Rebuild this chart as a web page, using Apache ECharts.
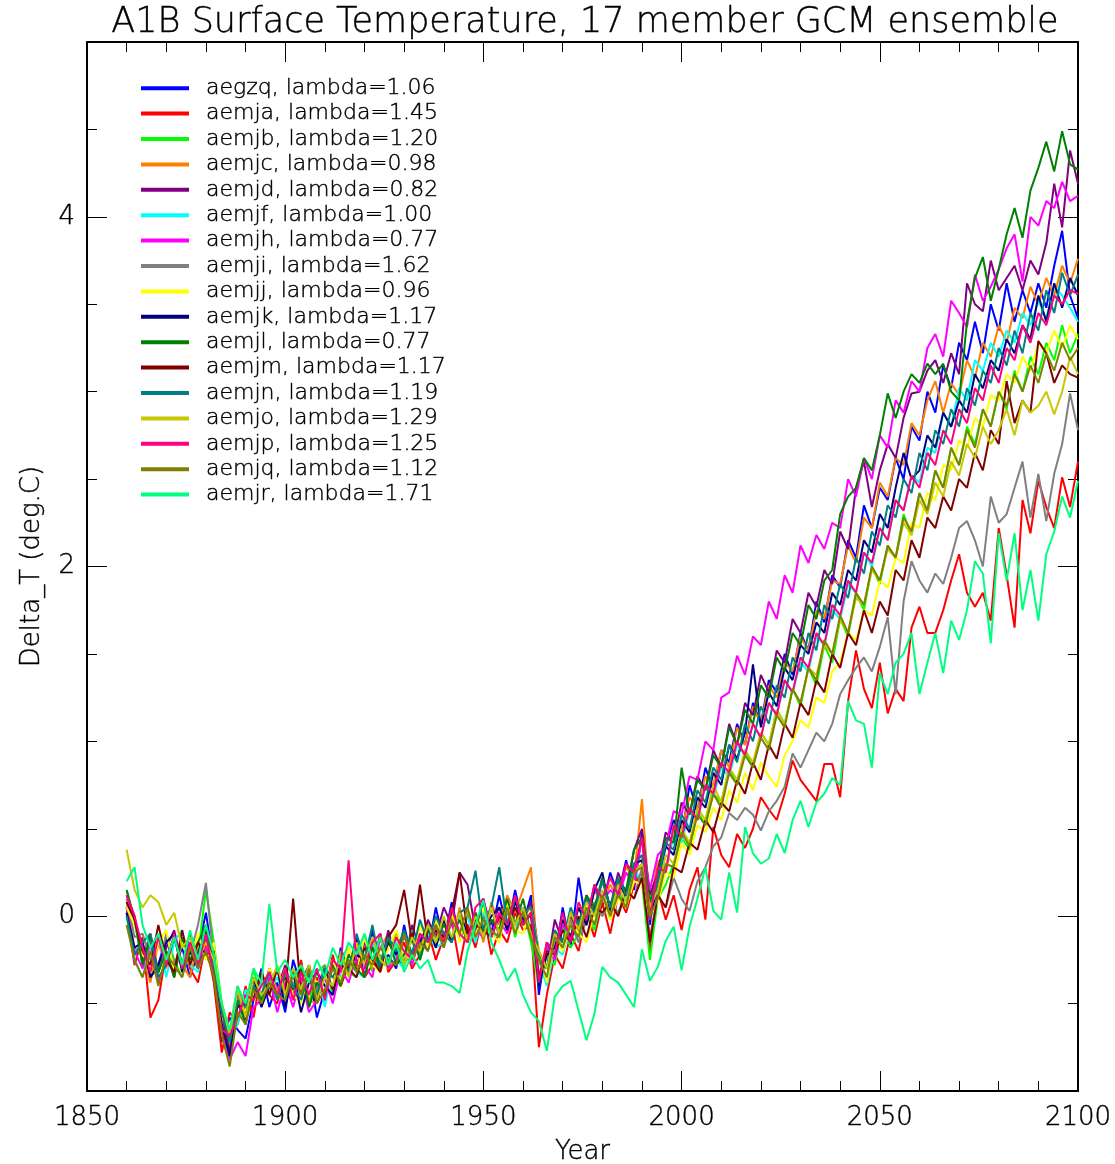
<!DOCTYPE html>
<html><head><meta charset="utf-8">
<script src="https://cdn.jsdelivr.net/npm/echarts@6/dist/echarts.min.js"></script>
<style>html,body{margin:0;padding:0;background:#fff}#c{width:1115px;height:1164px}</style>
</head><body><div id="c"></div>
<script>
const years = [1860,1862,1864,1866,1868,1870,1872,1874,1876,1878,
1880,1882,1884,1886,1888,1890,1892,1894,1896,1898,
1900,1902,1904,1906,1908,1910,1912,1914,1916,1918,
1920,1922,1924,1926,1928,1930,1932,1934,1936,1938,
1940,1942,1944,1946,1948,1950,1952,1954,1956,1958,
1960,1962,1964,1966,1968,1970,1972,1974,1976,1978,
1980,1982,1984,1986,1988,1990,1992,1994,1996,1998,
2000,2002,2004,2006,2008,2010,2012,2014,2016,2018,
2020,2022,2024,2026,2028,2030,2032,2034,2036,2038,
2040,2042,2044,2046,2048,2050,2052,2054,2056,2058,
2060,2062,2064,2066,2068,2070,2072,2074,2076,2078,
2080,2082,2084,2086,2088,2090,2092,2094,2096,2098,2100];

const aegzq = [0.05,-0.22,-0.15,-0.35,-0.28,-0.12,-0.30,-0.18,-0.35,-0.20,
0.02,-0.28,-0.72,-0.58,-0.65,-0.70,-0.48,-0.30,-0.52,-0.38,
-0.55,-0.25,-0.40,-0.30,-0.58,-0.42,-0.45,-0.18,-0.32,-0.12,
-0.35,-0.08,-0.30,-0.22,-0.30,-0.05,-0.25,-0.10,-0.20,0.05,
-0.15,0.08,-0.12,-0.05,-0.15,0.10,-0.10,0.12,-0.08,0.15,
-0.05,0.12,-0.45,-0.15,-0.25,0.05,-0.18,0.22,-0.05,0.18,
0.05,0.25,0.12,0.32,0.15,0.48,-0.05,0.28,0.40,0.55,
0.45,0.75,0.60,0.85,0.72,0.95,0.88,1.10,0.98,1.22,
1.10,1.35,1.28,1.50,1.38,1.62,1.52,1.80,1.68,1.95,
1.88,2.15,2.05,2.35,2.22,2.45,2.38,2.62,2.50,2.80,
2.72,3.00,2.88,3.15,3.02,3.28,3.18,3.40,3.22,3.50,
3.35,3.62,3.40,3.58,3.45,3.62,3.48,3.72,3.92,3.55,3.42];

const aemja = [0.02,-0.28,-0.12,-0.58,-0.48,-0.20,-0.35,-0.12,-0.30,-0.38,
-0.15,-0.38,-0.78,-0.55,-0.62,-0.40,-0.58,-0.32,-0.45,-0.50,
-0.30,-0.48,-0.25,-0.52,-0.35,-0.45,-0.22,-0.40,-0.28,-0.18,
-0.35,-0.28,-0.10,-0.32,-0.25,-0.15,-0.30,-0.22,-0.08,-0.25,
-0.12,-0.02,-0.28,-0.05,-0.18,0.02,-0.22,-0.08,-0.15,0.02,
-0.08,-0.05,-0.75,-0.45,-0.22,-0.30,-0.10,-0.20,0.02,-0.12,
0.08,-0.10,0.12,0.02,0.18,0.25,-0.21,0.15,-0.02,0.12,
-0.08,0.15,0.28,-0.02,0.51,0.35,0.28,0.47,0.39,0.50,
0.68,0.61,0.55,0.70,0.89,0.78,0.72,0.66,0.87,0.87,
0.68,1.23,1.52,1.30,1.19,1.45,1.16,1.30,1.23,1.65,
1.77,1.62,1.62,1.75,1.92,2.07,1.85,1.77,1.85,1.69,
2.22,1.95,1.65,2.38,2.19,2.49,2.34,2.22,2.51,2.34,2.60];

const aemjb = [0.15,-0.02,-0.28,-0.18,-0.32,-0.10,-0.25,-0.35,-0.15,-0.22,
0.15,-0.15,-0.50,-0.68,-0.40,-0.58,-0.30,-0.48,-0.30,-0.45,
-0.48,-0.30,-0.42,-0.50,-0.32,-0.28,-0.45,-0.20,-0.32,-0.35,
-0.15,-0.32,-0.22,-0.30,-0.08,-0.28,-0.20,-0.10,-0.18,-0.05,
-0.18,-0.02,-0.10,-0.15,0.02,-0.12,0.05,-0.10,0.08,-0.12,
0.05,-0.15,-0.40,-0.22,-0.28,-0.05,-0.18,-0.10,0.02,-0.08,
0.12,-0.02,0.15,0.05,0.25,0.20,-0.25,0.10,0.18,0.30,
0.45,0.38,0.60,0.52,0.70,0.65,0.85,0.75,0.95,0.85,
1.05,0.98,1.18,1.10,1.30,1.20,1.42,1.32,1.55,1.45,
1.70,1.60,1.85,1.75,2.00,1.90,2.12,2.05,2.30,2.18,
2.42,2.32,2.55,2.45,2.68,2.58,2.80,2.70,2.90,2.80,
3.00,2.90,3.12,3.00,3.20,3.10,3.28,3.18,3.38,3.22,3.33];

const aemjc = [0.08,-0.18,-0.22,-0.38,-0.15,-0.30,-0.12,-0.28,-0.35,-0.15,
-0.22,-0.32,-0.58,-0.75,-0.45,-0.62,-0.38,-0.52,-0.30,-0.48,
-0.32,-0.45,-0.28,-0.48,-0.50,-0.30,-0.35,-0.40,-0.18,-0.32,
-0.15,-0.30,-0.18,-0.10,-0.25,-0.12,-0.22,-0.05,-0.15,-0.02,
-0.10,-0.15,0.05,-0.12,0.02,-0.15,0.08,-0.05,0.12,0.02,
0.15,0.28,-0.35,-0.15,-0.20,-0.02,-0.12,0.05,-0.05,0.15,
0.08,0.18,0.10,0.28,0.22,0.67,0.05,0.32,0.25,0.52,
0.50,0.68,0.62,0.80,0.75,0.95,0.85,1.08,0.98,1.20,
1.10,1.32,1.25,1.45,1.40,1.60,1.52,1.75,1.70,1.92,
1.90,2.12,2.02,2.28,2.22,2.48,2.40,2.62,2.58,2.82,
2.75,2.95,3.06,2.88,3.05,2.98,3.18,3.08,3.28,3.20,
3.38,3.28,3.48,3.42,3.60,3.50,3.65,3.55,3.72,3.62,3.76];

const aemjd = [0.12,0.00,-0.25,-0.10,-0.32,-0.18,-0.08,-0.28,-0.15,-0.22,
-0.05,-0.30,-0.55,-0.78,-0.42,-0.60,-0.40,-0.50,-0.32,-0.42,
-0.28,-0.45,-0.38,-0.28,-0.45,-0.48,-0.25,-0.32,-0.22,-0.28,
-0.15,-0.25,-0.30,-0.08,-0.25,-0.28,-0.05,-0.20,-0.02,-0.12,
0.05,-0.05,0.25,0.18,-0.08,0.08,-0.05,0.05,-0.05,0.10,
-0.02,0.08,-0.20,-0.30,-0.02,-0.15,0.00,-0.08,0.12,0.00,
0.22,0.05,0.25,0.12,0.38,0.50,0.12,0.25,0.48,0.42,
0.65,0.58,0.80,0.72,0.95,0.85,1.10,0.98,1.22,1.15,
1.38,1.28,1.52,1.45,1.70,1.62,1.85,1.77,1.98,1.90,
2.20,2.10,2.45,2.60,2.34,2.55,2.70,2.62,2.85,2.99,
3.00,3.12,3.18,3.05,3.22,3.10,3.62,3.50,3.46,3.75,
3.58,3.65,3.72,3.58,3.75,3.67,3.85,4.19,3.94,4.38,4.19];

const aemjf = [0.00,-0.25,-0.35,-0.18,-0.10,-0.35,-0.15,-0.08,-0.28,-0.32,
-0.12,-0.25,-0.52,-0.68,-0.62,-0.42,-0.48,-0.38,-0.42,-0.35,
-0.48,-0.32,-0.40,-0.35,-0.30,-0.52,-0.28,-0.35,-0.25,-0.32,
-0.35,-0.15,-0.32,-0.12,-0.25,-0.30,-0.08,-0.25,-0.10,-0.18,
-0.15,0.02,-0.12,0.00,-0.15,0.02,-0.10,-0.12,0.08,-0.08,
0.05,-0.12,-0.25,-0.40,-0.18,-0.22,-0.05,-0.15,0.05,-0.05,
0.12,0.00,0.18,0.10,0.25,0.22,-0.02,0.12,0.28,0.45,
0.42,0.60,0.55,0.75,0.68,0.85,0.80,0.98,0.92,1.10,
1.02,1.22,1.15,1.35,1.28,1.45,1.40,1.60,1.55,1.75,
1.70,1.90,1.85,2.08,2.00,2.22,2.15,2.38,2.32,2.52,
2.48,2.68,2.65,2.88,2.80,3.02,2.95,3.18,3.12,3.28,
3.20,3.35,3.28,3.45,3.38,3.52,3.42,3.60,3.55,3.48,3.40];

const aemjh = [0.05,-0.20,-0.30,-0.15,-0.38,-0.25,-0.12,-0.30,-0.18,-0.28,
-0.18,-0.32,-0.65,-0.82,-0.72,-0.80,-0.52,-0.48,-0.35,-0.55,
-0.38,-0.52,-0.35,-0.55,-0.48,-0.35,-0.50,-0.30,-0.38,-0.22,
-0.28,-0.35,-0.12,-0.30,-0.25,-0.10,-0.28,-0.12,-0.18,-0.08,
-0.12,-0.05,-0.10,0.02,-0.08,-0.12,0.05,-0.02,-0.10,0.05,
0.00,0.05,-0.35,-0.18,-0.25,-0.05,-0.12,-0.02,-0.05,0.15,
0.08,0.15,0.10,0.25,0.18,0.45,0.15,0.35,0.40,0.60,
0.58,0.80,0.78,1.00,0.95,1.25,1.28,1.49,1.38,1.60,
1.55,1.80,1.70,1.95,1.85,2.12,2.02,2.18,2.10,2.25,
2.22,2.50,2.40,2.62,2.50,2.75,2.68,2.95,2.88,3.06,
3.00,3.25,3.33,3.20,3.52,3.45,3.37,3.67,3.52,3.60,
3.70,3.82,3.90,3.63,4.00,3.95,4.09,4.05,4.20,4.09,4.12];

const aemji = [0.10,-0.12,-0.10,-0.25,-0.32,-0.10,-0.28,-0.15,-0.22,-0.05,
0.19,-0.25,-0.55,-0.70,-0.40,-0.55,-0.38,-0.45,-0.30,-0.42,
-0.35,-0.38,-0.45,-0.30,-0.42,-0.28,-0.42,-0.25,-0.32,-0.18,
-0.28,-0.12,-0.25,-0.15,-0.22,-0.12,-0.15,-0.22,-0.05,-0.12,
-0.15,0.00,-0.12,0.02,-0.10,-0.02,0.05,-0.12,0.02,-0.05,
0.05,-0.10,-0.25,-0.35,-0.15,-0.18,-0.02,-0.15,-0.02,0.08,
0.00,0.08,0.02,0.15,0.10,0.28,-0.12,0.12,0.05,0.22,
0.10,0.03,0.20,0.28,0.40,0.45,0.59,0.55,0.62,0.58,
0.49,0.60,0.66,0.74,0.93,0.85,0.95,1.05,1.00,1.10,
1.27,1.35,1.42,1.48,1.40,1.54,1.71,1.27,1.80,2.03,
1.92,1.85,1.96,1.90,2.05,2.22,2.26,2.15,2.00,2.40,
2.25,2.30,2.45,2.60,2.28,2.53,2.26,2.53,2.70,2.99,2.78];

const aemjj = [0.05,-0.05,-0.22,-0.30,-0.15,-0.08,-0.32,-0.15,-0.28,-0.10,
-0.25,-0.15,-0.58,-0.65,-0.48,-0.55,-0.35,-0.50,-0.30,-0.45,
-0.30,-0.45,-0.50,-0.32,-0.38,-0.45,-0.25,-0.38,-0.18,-0.32,
-0.12,-0.28,-0.32,-0.18,-0.08,-0.22,-0.25,-0.05,-0.18,-0.02,
-0.15,0.02,-0.15,0.05,-0.12,0.05,-0.10,-0.15,0.08,-0.08,
-0.10,0.05,-0.20,-0.38,-0.12,-0.20,-0.05,-0.10,-0.15,0.02,
0.12,-0.02,0.10,0.05,0.20,0.18,0.00,0.08,0.25,0.22,
0.42,0.35,0.52,0.48,0.62,0.55,0.72,0.65,0.82,0.72,
0.88,0.80,0.74,0.92,1.00,1.12,1.08,1.25,1.22,1.40,
1.45,1.62,1.58,1.75,1.72,1.92,1.88,2.05,2.02,2.25,
2.22,2.42,2.38,2.58,2.55,2.72,2.68,2.85,2.80,2.98,
2.95,3.10,3.05,3.20,3.12,3.28,3.22,3.35,3.25,3.38,3.30];

const aemjk = [0.02,-0.18,-0.15,-0.35,-0.28,-0.15,-0.10,-0.32,-0.20,-0.30,
-0.08,-0.28,-0.62,-0.80,-0.50,-0.58,-0.35,-0.52,-0.40,-0.30,
-0.52,-0.32,-0.55,-0.38,-0.32,-0.40,-0.45,-0.25,-0.30,-0.22,
-0.25,-0.18,-0.28,-0.15,-0.22,-0.10,-0.22,-0.15,-0.05,-0.18,
-0.02,-0.15,0.02,-0.10,-0.02,-0.08,0.00,0.05,-0.08,0.08,
-0.02,0.00,-0.40,-0.22,-0.18,-0.02,-0.12,0.05,-0.05,0.15,
0.25,0.02,0.18,0.12,0.30,0.32,-0.02,0.18,0.40,0.35,
0.55,0.48,0.68,0.62,0.82,0.75,0.98,0.90,1.05,1.44,
1.08,1.28,1.20,1.42,1.35,1.55,1.50,1.68,1.62,1.85,
1.78,1.98,1.92,2.15,2.08,2.30,2.22,2.45,2.65,2.50,
2.55,2.75,2.68,2.88,2.80,2.95,2.88,3.10,3.02,3.18,
3.12,3.30,3.22,3.38,3.30,3.55,3.40,3.62,3.48,3.65,3.55];

const aemjl = [0.15,-0.02,-0.28,-0.12,-0.32,-0.20,-0.35,-0.12,-0.25,-0.15,
-0.05,-0.32,-0.52,-0.72,-0.48,-0.62,-0.40,-0.48,-0.38,-0.45,
-0.35,-0.42,-0.30,-0.52,-0.38,-0.45,-0.28,-0.40,-0.22,-0.30,
-0.35,-0.18,-0.30,-0.12,-0.28,-0.22,-0.10,-0.25,-0.08,-0.15,
-0.05,-0.12,-0.02,-0.15,0.02,-0.12,-0.02,-0.08,0.10,-0.05,
0.10,-0.10,-0.25,-0.30,-0.10,-0.15,0.02,-0.05,0.12,0.05,
0.22,0.05,0.20,0.15,0.38,0.45,0.08,0.22,0.45,0.42,
0.85,0.58,0.78,0.72,0.92,0.85,1.08,0.98,1.18,1.10,
1.32,1.25,1.48,1.40,1.62,1.55,1.78,1.70,1.92,1.98,
2.30,2.40,2.45,2.62,2.55,2.75,2.99,2.85,3.00,3.10,
3.05,3.16,3.10,3.16,3.00,2.95,3.40,3.65,3.77,3.52,
3.70,3.90,4.05,3.88,4.15,4.28,4.43,4.26,4.49,4.30,4.27];

const aemjm = [0.08,-0.02,-0.20,-0.28,-0.05,-0.25,-0.32,-0.08,-0.28,-0.15,
-0.22,-0.20,-0.70,-0.68,-0.52,-0.50,-0.48,-0.32,-0.45,-0.30,
-0.45,0.10,-0.45,-0.32,-0.50,-0.30,-0.42,-0.28,-0.30,-0.35,
-0.18,-0.25,-0.32,-0.12,-0.05,0.15,-0.15,0.18,-0.15,-0.08,
-0.12,0.02,0.25,-0.10,-0.05,-0.08,-0.12,0.00,-0.05,0.05,
-0.05,0.02,-0.35,-0.20,-0.22,-0.08,-0.15,0.00,-0.12,0.05,
0.02,0.08,0.00,0.15,0.10,0.22,-0.15,0.12,0.05,0.28,
0.25,0.42,0.38,0.55,0.48,0.65,0.60,0.78,0.70,0.88,
0.78,0.98,0.90,1.10,1.02,1.22,1.15,1.35,1.28,1.50,
1.42,1.62,1.55,1.75,1.62,1.80,1.72,1.98,1.92,2.15,
2.05,2.28,2.22,2.40,2.32,2.50,2.45,2.65,2.55,2.78,
2.70,3.06,2.82,2.95,2.88,3.29,3.22,3.05,3.15,3.10,3.08];

const aemjn = [0.00,-0.22,-0.15,-0.10,-0.35,-0.28,-0.12,-0.28,-0.10,-0.28,
-0.12,-0.28,-0.55,-0.72,-0.48,-0.52,-0.40,-0.45,-0.32,-0.48,
-0.32,-0.40,-0.48,-0.32,-0.45,-0.30,-0.35,-0.25,-0.32,-0.10,
-0.25,-0.05,-0.28,-0.12,-0.20,-0.08,-0.22,-0.02,-0.15,0.00,
-0.10,-0.15,0.02,0.05,0.26,-0.08,0.05,0.28,-0.05,0.10,
0.02,0.05,-0.22,-0.30,-0.08,-0.15,0.05,-0.05,0.10,0.02,
0.20,0.05,0.22,0.12,0.30,0.35,0.02,0.20,0.42,0.38,
0.58,0.50,0.72,0.65,0.85,0.78,0.98,0.88,1.10,1.00,
1.20,1.10,1.32,1.25,1.48,1.40,1.62,1.52,1.78,1.70,
1.90,1.82,2.05,1.96,2.20,2.12,2.35,2.28,2.50,2.42,
2.65,2.55,2.78,2.70,2.90,2.80,3.02,2.92,3.12,3.05,
3.25,3.15,3.35,3.22,3.45,3.35,3.58,3.45,3.68,3.55,3.67];

const aemjo = [0.38,0.15,0.05,0.12,0.08,-0.05,0.02,-0.18,-0.12,-0.25,
-0.15,-0.25,-0.50,-0.68,-0.42,-0.58,-0.35,-0.45,-0.40,-0.28,
-0.45,-0.30,-0.42,-0.28,-0.48,-0.35,-0.40,-0.22,-0.35,-0.15,
-0.28,-0.12,-0.25,-0.30,-0.10,-0.28,-0.12,-0.20,-0.05,-0.15,
0.00,-0.12,0.02,-0.15,0.00,-0.12,0.05,-0.10,0.05,-0.05,
0.05,-0.10,-0.20,-0.30,-0.10,-0.18,0.02,-0.08,0.08,0.00,
0.15,0.00,0.18,0.08,0.25,0.30,0.05,0.15,0.35,0.30,
0.50,0.42,0.62,0.55,0.75,0.65,0.85,0.78,0.95,0.88,
1.05,0.98,1.18,1.10,1.30,1.22,1.42,1.38,1.55,1.50,
1.70,1.62,1.82,1.78,1.98,1.92,2.10,2.05,2.25,2.18,
2.38,2.30,2.48,2.40,2.60,2.52,2.70,2.62,2.80,2.70,
2.78,2.90,2.75,2.95,2.88,2.92,3.00,2.87,3.00,3.20,3.10];

const aemjp = [0.12,0.00,-0.18,-0.32,-0.12,-0.28,-0.10,-0.30,-0.15,-0.28,
-0.10,-0.35,-0.65,-0.68,-0.58,-0.45,-0.48,-0.40,-0.32,-0.45,
-0.30,-0.48,-0.32,-0.45,-0.30,-0.48,-0.25,-0.30,0.32,-0.28,
-0.30,-0.15,-0.10,-0.30,-0.12,-0.20,-0.25,-0.10,-0.15,-0.05,
-0.15,0.05,-0.10,-0.15,0.05,0.10,-0.12,0.02,-0.05,0.12,
-0.05,0.02,-0.38,-0.15,-0.22,0.02,-0.15,0.08,-0.02,0.18,
0.10,0.22,0.12,0.30,0.25,0.45,-0.02,0.28,0.25,0.52,
0.45,0.62,0.55,0.75,0.70,0.88,0.82,1.00,0.92,1.10,
1.02,1.22,1.15,1.35,1.28,1.48,1.42,1.62,1.55,1.78,
1.72,1.92,1.85,2.08,2.02,2.22,2.15,2.38,2.32,2.52,
2.45,2.65,2.58,2.78,2.70,2.90,2.82,3.02,2.95,3.15,
3.05,3.25,3.18,3.38,3.28,3.45,3.38,3.55,3.50,3.58,3.56];

const aemjq = [-0.05,-0.25,-0.35,-0.20,-0.40,-0.22,-0.28,-0.35,-0.18,-0.30,
-0.20,-0.35,-0.68,-0.86,-0.55,-0.62,-0.42,-0.50,-0.38,-0.45,
-0.48,-0.32,-0.45,-0.30,-0.50,-0.42,-0.30,-0.38,-0.25,-0.32,
-0.22,-0.28,-0.18,-0.25,-0.28,-0.10,-0.25,-0.15,-0.20,-0.05,
-0.18,-0.02,-0.10,0.05,-0.12,-0.02,-0.08,-0.12,0.05,-0.10,
0.02,-0.12,-0.25,-0.35,-0.12,-0.18,-0.05,-0.12,0.05,-0.05,
0.12,0.00,0.12,0.05,0.25,0.28,0.00,0.10,0.30,0.28,
0.48,0.40,0.58,0.52,0.70,0.62,0.82,0.75,0.92,0.85,
1.02,0.95,1.15,1.08,1.30,1.22,1.42,1.35,1.58,1.50,
1.72,1.62,1.85,1.78,2.00,1.92,2.12,2.05,2.28,2.20,
2.42,2.32,2.55,2.45,2.68,2.58,2.78,2.68,2.90,2.80,
3.00,2.92,3.10,3.00,3.15,3.05,3.22,3.12,3.28,3.18,3.25];

const aemjr = [0.20,0.28,-0.05,-0.18,-0.10,-0.25,-0.12,-0.28,-0.08,-0.25,
-0.05,-0.22,-0.50,-0.65,-0.40,-0.50,-0.30,-0.38,0.07,-0.32,
-0.25,-0.35,-0.28,-0.38,-0.25,-0.35,-0.18,-0.28,-0.15,-0.22,
-0.10,-0.25,-0.12,-0.28,-0.15,-0.32,-0.22,-0.30,-0.25,-0.38,
-0.38,-0.40,-0.44,-0.20,-0.05,0.09,-0.15,-0.25,-0.37,-0.30,
-0.45,-0.55,-0.60,-0.77,-0.46,-0.40,-0.37,-0.54,-0.71,-0.56,
-0.29,-0.35,-0.38,-0.45,-0.52,-0.19,-0.37,-0.29,-0.14,-0.06,
-0.31,-0.06,0.10,0.28,0.03,-0.02,0.25,0.02,0.51,0.36,
0.30,0.33,0.47,0.36,0.55,0.66,0.51,0.65,0.70,0.79,
0.75,1.23,1.12,1.10,0.85,1.39,1.27,1.45,1.50,1.62,
1.27,1.45,1.62,1.39,1.69,1.58,1.75,2.03,1.96,1.56,
2.19,1.92,2.19,1.75,1.98,1.69,2.07,2.20,2.40,2.28,2.49];

const seriesNames = ['aegzq, lambda=1.06','aemja, lambda=1.45','aemjb, lambda=1.20','aemjc, lambda=0.98',
'aemjd, lambda=0.82','aemjf, lambda=1.00','aemjh, lambda=0.77','aemji, lambda=1.62','aemjj, lambda=0.96',
'aemjk, lambda=1.17','aemjl, lambda=0.77','aemjm, lambda=1.17','aemjn, lambda=1.19','aemjo, lambda=1.29',
'aemjp, lambda=1.25','aemjq, lambda=1.12','aemjr, lambda=1.71'];
const seriesValues = [aegzq,aemja,aemjb,aemjc,aemjd,aemjf,aemjh,aemji,aemjj,aemjk,aemjl,aemjm,aemjn,aemjo,aemjp,aemjq,aemjr];
const seriesColors = ['#0000ff','#ff0000','#00ff00','#ff8000','#800080','#00ffff','#ff00ff','#808080','#ffff00',
'#000080','#008000','#800000','#008080','#c8c800','#ff0080','#808000','#00ff80'];
const yMajorTicks = [0,2,4];
const yMinorTicks = [-0.5,0.5,1,1.5,2.5,3,3.5,4.5];

const FONT = 'DejaVu Sans';
const TXT = {color:'#000', fontFamily:FONT, fontWeight:200, textBorderColor:'#000', textBorderWidth:0.4};
const chart = echarts.init(document.getElementById('c'), null, {renderer:'canvas'});
const axisLine = {show:true, onZero:false, lineStyle:{color:'#000', width:2}};
function xAx(pos, labels){
  return {type:'value', position:pos, min:1850, max:2100, interval:50,
    axisLine:axisLine, splitLine:{show:false},
    axisTick:{show:true, inside:true, length:20, lineStyle:{color:'#000', width:1}},
    minorTick:{show:true, splitNumber:5, length:10, lineStyle:{color:'#000', width:1}},
    axisLabel:Object.assign({show:labels, formatter:v=>String(v), fontSize:26, margin:14}, TXT),
    name: labels ? 'Year' : '', nameLocation:'middle', nameGap:48,
    nameTextStyle:Object.assign({fontSize:26}, TXT)};
}
function yAx(pos, major, labels){
  return {type:'value', position:pos, min:-1, max:5, interval:0.5,
    axisLine: major ? axisLine : {show:false, onZero:false}, splitLine:{show:false},
    axisTick:{show:true, inside:true, length: major?20:10,
      customValues: major ? yMajorTicks : yMinorTicks, lineStyle:{color:'#000', width:1}},
    axisLabel:Object.assign({show:labels, customValues:yMajorTicks, fontSize:26, margin:12}, TXT),
    name: labels ? 'Delta_T (deg.C)' : '', nameLocation:'middle', nameGap:42, nameRotate:90,
    nameTextStyle:Object.assign({fontSize:26}, TXT)};
}
const series = seriesNames.map((n,i)=>({
  name:n, type:'line', xAxisIndex:0, yAxisIndex:0,
  data: years.map((y,j)=>[y, seriesValues[i][j]]),
  showSymbol:false, symbol:'none', color:seriesColors[i],
  lineStyle:{width:2, color:seriesColors[i]}, emphasis:{disabled:true}, silent:true
}));
chart.setOption({
  animation:false, backgroundColor:'#fff',
  title:{text:'A1B Surface Temperature, 17 member GCM ensemble', left:580, textAlign:'center', top:0,
    textStyle:Object.assign({fontSize:35}, TXT)},
  grid:{left:87, right:37, top:42, bottom:73, containLabel:false, outerBoundsMode:'none'},
  legend:{show:true, orient:'vertical', left:136, top:72, itemWidth:48, itemHeight:4, itemGap:3,
    icon:'rect', selectedMode:false, data:seriesNames,
    textStyle:Object.assign({fontSize:22, lineHeight:21, padding:[0,0,0,12]}, TXT)},
  xAxis:[xAx('bottom', true), xAx('top', false)],
  yAxis:[yAx('left', true, true), yAx('left', false, false), yAx('right', true, false), yAx('right', false, false)],
  series: series
});
</script></body></html>
